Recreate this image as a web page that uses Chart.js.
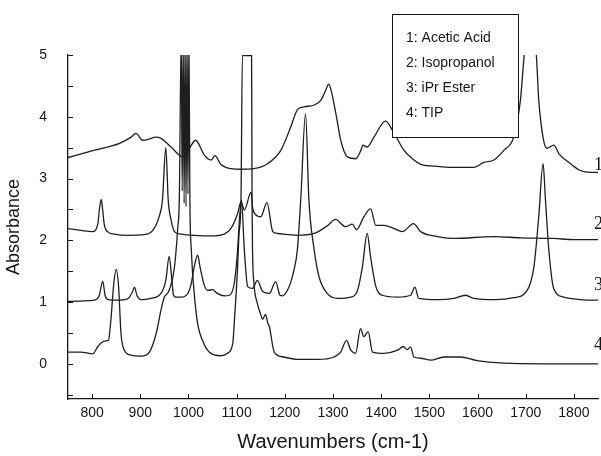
<!DOCTYPE html>
<html>
<head>
<meta charset="utf-8">
<script src="https://cdn.jsdelivr.net/npm/chart.js@4.4.0/dist/chart.umd.min.js"></script>
<style>
  html, body { margin: 0; padding: 0; background: #fff; }
  #wrap { width: 601px; height: 456px; }
</style>
</head>
<body>
<div id="wrap"><canvas id="spectra" width="601" height="456"></canvas></div>
<script>
// traces: wavenumber (cm-1) and absorbance, already offset
const wnAcetic = [750, 805, 857, 881, 891, 905, 915, 933, 943, 964, 988, 996, 1003, 1015, 1033, 1047, 1055, 1067, 1088, 1109, 1136, 1164, 1192, 1212, 1226, 1240, 1261, 1275, 1285, 1291, 1295, 1306, 1316, 1330, 1347, 1358, 1362, 1371, 1385, 1409, 1427, 1447, 1468, 1482, 1510, 1551, 1592, 1613, 1634, 1655, 1675, 1689, 1697, 1710, 1722, 1727, 1737, 1744, 1758, 1769, 1793, 1813, 1834, 1850];
const absAcetic = [3.34, 3.46, 3.57, 3.67, 3.73, 3.62, 3.63, 3.67, 3.65, 3.51, 3.35, 3.38, 3.50, 3.62, 3.38, 3.30, 3.37, 3.23, 3.16, 3.15, 3.16, 3.24, 3.46, 3.83, 4.11, 4.16, 4.19, 4.27, 4.43, 4.53, 4.46, 4.05, 3.62, 3.35, 3.32, 3.46, 3.54, 3.51, 3.67, 3.93, 3.73, 3.46, 3.30, 3.23, 3.20, 3.18, 3.18, 3.26, 3.30, 3.46, 3.67, 4.27, 5.0, 5.6, 5.0, 4.27, 3.62, 3.49, 3.54, 3.40, 3.24, 3.13, 3.10, 3.10];

const wnIpa = [750, 777, 801, 812, 815, 819, 822, 825, 832, 846, 874, 908, 926, 939, 946, 953, 958, 964, 971, 984, 1012, 1047, 1074, 1088, 1102, 1109, 1116, 1130, 1133, 1140, 1150, 1163, 1175, 1185, 1226, 1261, 1289, 1305, 1326, 1340, 1349, 1364, 1378, 1389, 1406, 1427, 1444, 1467, 1482, 1517, 1551, 1634, 1689, 1758, 1800, 1850];
const absIpa = [2.19, 2.16, 2.14, 2.27, 2.49, 2.66, 2.49, 2.27, 2.14, 2.10, 2.08, 2.09, 2.16, 2.38, 2.65, 3.50, 2.65, 2.33, 2.14, 2.10, 2.08, 2.07, 2.10, 2.19, 2.43, 2.62, 2.49, 2.78, 2.54, 2.41, 2.38, 2.61, 2.14, 2.11, 2.08, 2.11, 2.24, 2.34, 2.22, 2.26, 2.17, 2.38, 2.51, 2.24, 2.24, 2.19, 2.14, 2.27, 2.14, 2.06, 2.03, 2.06, 2.04, 2.03, 2.01, 2.01];

const wnEster = [750, 805, 815, 822, 827, 833, 853, 874, 884, 888, 893, 902, 922, 943, 953, 960, 965, 969, 974, 985, 998, 1005, 1012, 1019, 1024, 1033, 1040, 1050, 1060, 1074, 1085, 1095, 1102, 1105, 1110, 1116, 1123, 1133, 1143, 1154, 1168, 1181, 1190, 1195, 1209, 1219, 1226, 1233, 1243, 1250, 1261, 1271, 1288, 1309, 1337, 1351, 1361, 1371, 1378, 1389, 1402, 1434, 1461, 1470, 1478, 1517, 1551, 1575, 1592, 1634, 1675, 1703, 1717, 1727, 1736, 1741, 1748, 1758, 1779, 1813, 1850];
const absEster = [1.01, 1.03, 1.11, 1.34, 1.11, 1.04, 1.03, 1.05, 1.17, 1.24, 1.11, 1.04, 1.06, 1.14, 1.35, 1.74, 1.41, 1.11, 1.08, 1.08, 1.13, 1.27, 1.57, 1.76, 1.57, 1.27, 1.19, 1.20, 1.14, 1.10, 1.11, 1.30, 1.84, 2.24, 2.65, 1.84, 1.25, 1.22, 1.35, 1.17, 1.14, 1.33, 1.11, 1.10, 1.25, 1.52, 1.84, 2.65, 4.05, 2.65, 1.84, 1.41, 1.14, 1.06, 1.08, 1.19, 1.57, 2.11, 1.73, 1.25, 1.11, 1.08, 1.11, 1.24, 1.06, 1.04, 1.06, 1.11, 1.06, 1.04, 1.07, 1.19, 1.57, 2.38, 3.24, 2.65, 1.84, 1.22, 1.08, 1.04, 1.03];

// TIP saturates near 990 (noisy) and 1120 (flat at the top of the plot)
const wnTip = [750, 777, 801, 812, 819, 829, 834, 839, 845, 850, 855, 860, 867, 881, 902, 919, 933, 943, 950, 955, 960, 971, 978, 981, 985, 987, 989, 991, 993, 995, 997, 999, 1001, 1003, 1006, 1012, 1019, 1029, 1043, 1067, 1081, 1092, 1095, 1102, 1105, 1109, 1112, 1131, 1132, 1133, 1136, 1143, 1150, 1154, 1160, 1165, 1168, 1178, 1198, 1226, 1268, 1302, 1316, 1328, 1337, 1347, 1357, 1364, 1373, 1382, 1406, 1434, 1446, 1454, 1461, 1468, 1482, 1503, 1530, 1565, 1599, 1655, 1737, 1850];
const absTip = [0.19, 0.19, 0.16, 0.28, 0.34, 0.37, 0.38, 0.71, 1.30, 1.53, 1.25, 0.49, 0.22, 0.14, 0.125, 0.19, 0.49, 0.87, 1.08, 1.13, 1.19, 1.57, 2.22, 2.65, 5.3, 2.8, 5.3, 2.6, 5.3, 2.55, 5.3, 2.75, 5.3, 2.65, 1.84, 1.14, 0.65, 0.38, 0.19, 0.13, 0.17, 0.33, 0.65, 1.57, 2.11, 2.65, 4.99, 4.99, 2.65, 1.84, 1.30, 0.98, 0.80, 0.72, 0.80, 0.65, 0.60, 0.19, 0.11, 0.07, 0.07, 0.11, 0.19, 0.38, 0.22, 0.17, 0.57, 0.44, 0.52, 0.19, 0.17, 0.22, 0.28, 0.23, 0.27, 0.11, 0.09, 0.06, 0.11, 0.11, 0.05, 0.01, 0, 0];

const legendLines = ['1: Acetic Acid', '2: Isopropanol', '3: iPr Ester', '4: TIP'];
const traceTags = ['1', '2', '3', '4'];
const tagLevels = [3.21, 2.26, 1.27, 0.30];
const xTicks = [800, 900, 1000, 1100, 1200, 1300, 1400, 1500, 1600, 1700, 1800];
const yTicks = [-0.5, 0, 0.5, 1, 1.5, 2, 2.5, 3, 3.5, 4, 4.5, 5];

const ink = '#161616';
const sans = '"Liberation Sans", Arial, sans-serif';

const pairs = (xs, ys) => xs.map((x, i) => ({ x: x, y: ys[i] }));

const trace = (label, xs, ys) => ({
    label: label,
    data: pairs(xs, ys),
    borderColor: '#1e1e1e',
    borderWidth: 1.3,
    pointRadius: 0,
    cubicInterpolationMode: 'monotone',
    fill: false
});

// white page, inward tick marks, boxed legend and the 1-4 tags at the right
const decor = {
    id: 'decor',
    beforeDraw(chart) {
        const ctx = chart.ctx;
        ctx.save();
        ctx.fillStyle = '#fff';
        ctx.fillRect(0, 0, chart.width, chart.height);
        ctx.restore();
    },
    afterDatasetsDraw(chart) {
        const ctx = chart.ctx;
        const xs = chart.scales.x, ys = chart.scales.y;
        const area = chart.chartArea;
        ctx.save();
        ctx.strokeStyle = ink;
        ctx.lineWidth = 1;
        ctx.beginPath();
        xTicks.forEach(v => {
            const px = Math.round(xs.getPixelForValue(v)) + 0.5;
            ctx.moveTo(px, area.bottom);
            ctx.lineTo(px, area.bottom - 5);
        });
        yTicks.forEach(v => {
            const py = Math.round(ys.getPixelForValue(v)) + 0.5;
            ctx.moveTo(area.left, py);
            ctx.lineTo(area.left + 5, py);
        });
        ctx.stroke();

        // legend box
        ctx.fillStyle = '#fff';
        ctx.fillRect(392, 14, 126, 123);
        ctx.strokeRect(392.5, 14.5, 126, 123);
        ctx.fillStyle = ink;
        ctx.font = '14px ' + sans;
        ctx.textBaseline = 'middle';
        ctx.textAlign = 'left';
        legendLines.forEach((t, i) => ctx.fillText(t, 406, 38 + i * 25));

        // trace numbers
        ctx.font = '18px "Liberation Serif", "Times New Roman", serif';
        traceTags.forEach((t, i) => ctx.fillText(t, 594, ys.getPixelForValue(tagLevels[i])));
        ctx.restore();
    }
};

new Chart(document.getElementById('spectra'), {
    type: 'line',
    data: {
        datasets: [
            trace('Acetic Acid', wnAcetic, absAcetic),
            trace('Isopropanol', wnIpa, absIpa),
            trace('iPr Ester', wnEster, absEster),
            trace('TIP', wnTip, absTip)
        ]
    },
    options: {
        responsive: false,
        animation: false,
        layout: { padding: { top: 55, right: 3, left: 0, bottom: 0 } },
        plugins: { legend: { display: false }, tooltip: { enabled: false } },
        scales: {
            x: {
                type: 'linear',
                min: 750,
                max: 1850,
                afterBuildTicks: s => { s.ticks = xTicks.map(v => ({ value: v })); },
                afterFit: s => { s.height = 57; },
                grid: { display: false, drawTicks: false },
                border: { display: true, color: ink, width: 1.3 },
                ticks: { padding: 6, color: ink, autoSkip: false, maxRotation: 0, font: { family: sans, size: 14 }, callback: v => String(v) },
                title: { display: true, text: 'Wavenumbers (cm-1)', color: ink, font: { family: sans, size: 20 }, padding: { top: 0, bottom: 2 } }
            },
            y: {
                type: 'linear',
                min: -0.57,
                max: 5,
                afterBuildTicks: s => { s.ticks = yTicks.map(v => ({ value: v })); },
                afterFit: s => { s.width = 68; },
                grid: { display: false, drawTicks: false },
                border: { display: true, color: ink, width: 1.3 },
                ticks: { padding: 21, color: ink, autoSkip: false, font: { family: sans, size: 14 }, callback: v => Number.isInteger(v) ? String(v) : '' },
                title: { display: true, text: 'Absorbance', color: ink, font: { family: sans, size: 18 }, padding: { top: 3, bottom: 0 } }
            }
        }
    },
    plugins: [decor]
});
</script>
</body>
</html>
